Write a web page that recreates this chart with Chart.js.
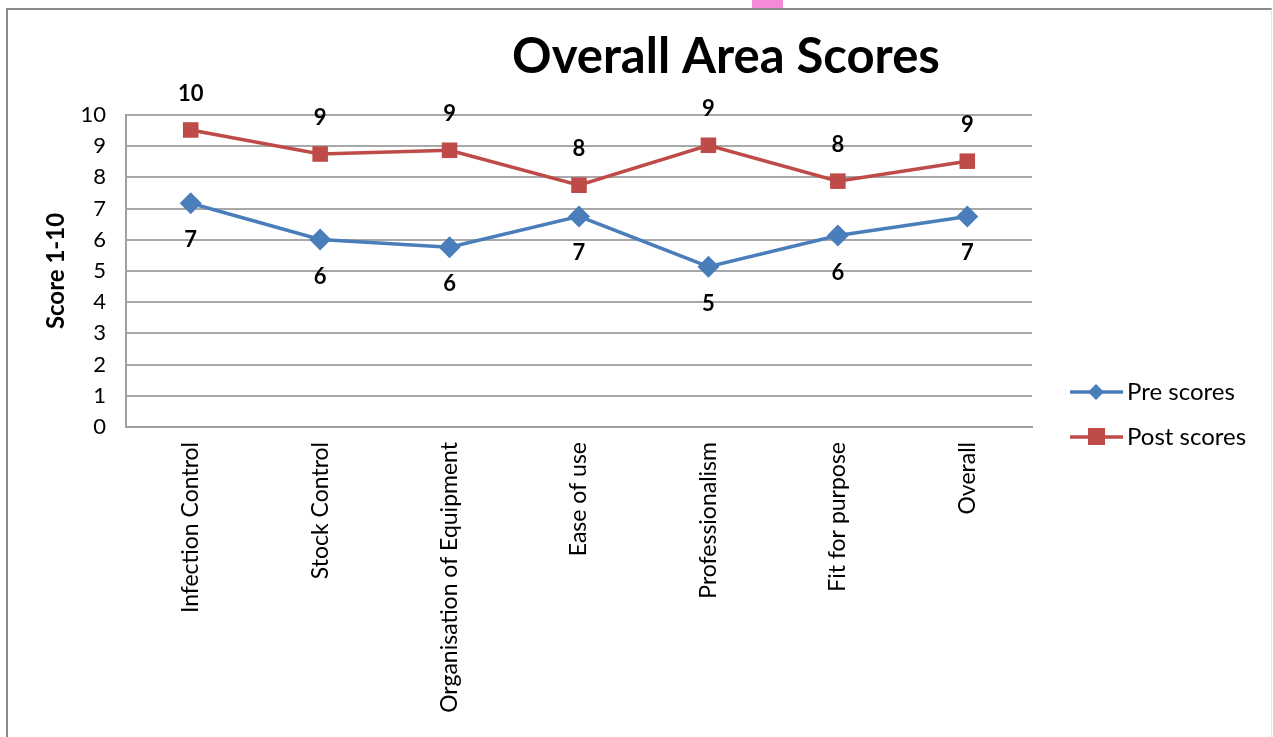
<!DOCTYPE html>
<html>
<head>
<meta charset="utf-8">
<script src="https://cdn.jsdelivr.net/npm/chart.js@4.4.1/dist/chart.umd.min.js"></script>
<style>
  html, body { margin: 0; padding: 0; background: #fff; }
  #wrap { position: relative; width: 1273px; height: 737px; }
  #frame { position: absolute; left: 6px; top: 8px; right: 1px; bottom: -4px; border-left: 2px solid #8a8a8a; border-top: 2px solid #8a8a8a; border-right: 1px solid #e6e6e6; }
  #pink { position: absolute; left: 752px; top: 0; width: 31px; height: 8px; background: #f48ad9; }
</style>
</head>
<body>
<div id="wrap">
  <div id="frame"></div>
  <div id="pink"></div>
  <canvas id="lineChart" width="1273" height="737" style="position:absolute;left:0;top:0;"></canvas>
</div>
<script>
// datos
const categorias = ['Infection Control', 'Stock Control', 'Organisation of Equipment', 'Ease of use', 'Professionalism', 'Fit for purpose', 'Overall'];
const preScores = [7.17, 6.01, 5.76, 6.75, 5.14, 6.14, 6.75];
const postScores = [9.52, 8.75, 8.87, 7.75, 9.03, 7.88, 8.52];
const ticksY = [0, 1, 2, 3, 4, 5, 6, 7, 8, 9, 10];

const fuente = "'Lato', 'Open Sans', sans-serif";
const azul = '#4a7ebb';
const rojo = '#be4b48';

// etiquetas de valor, titulo y leyenda
const extras = {
    id: 'extras',
    afterDatasetsDraw(chart) {
        const ctx = chart.ctx;
        ctx.save();
        ctx.fillStyle = '#000';
        ctx.textAlign = 'center';
        ctx.textBaseline = 'middle';
        ctx.font = 'bold 22px ' + fuente;
        chart.data.datasets.forEach((ds, i) => {
            const meta = chart.getDatasetMeta(i);
            const dir = ds.etiqueta === 'arriba' ? -36 : 37;
            meta.data.forEach((pt, j) => {
                ctx.fillText(Math.round(ds.data[j]), pt.x, pt.y + dir);
            });
        });

        // titulo
        ctx.font = 'bold 49px ' + fuente;
        ctx.fillText('Overall Area Scores', 726, 57);

        // leyenda
        ctx.font = '24px ' + fuente;
        ctx.textAlign = 'left';
        chart.data.datasets.forEach((ds, i) => {
            const y = 392 + i * 45;
            ctx.strokeStyle = ds.borderColor;
            ctx.lineWidth = 3.5;
            ctx.beginPath();
            ctx.moveTo(1070, y);
            ctx.lineTo(1123, y);
            ctx.stroke();
            ctx.fillStyle = ds.backgroundColor;
            if (ds.pointStyle === 'rectRot') {
                ctx.beginPath();
                ctx.moveTo(1096, y - 8);
                ctx.lineTo(1104, y);
                ctx.lineTo(1096, y + 8);
                ctx.lineTo(1088, y);
                ctx.closePath();
                ctx.fill();
            } else {
                ctx.fillRect(1088, y - 9, 17, 17);
            }
            ctx.fillStyle = '#000';
            ctx.fillText(ds.label, 1127, y);
        });
        ctx.restore();
    }
};

const ctx = document.getElementById('lineChart').getContext('2d');
const lineChart = new Chart(ctx, {
    type: 'line',
    data: {
        labels: categorias,
        datasets: [
            {
                label: 'Pre scores', data: preScores, etiqueta: 'abajo',
                borderColor: azul, backgroundColor: azul, borderWidth: 3.5,
                pointStyle: 'rectRot', pointRadius: 11, pointHoverRadius: 11, pointBorderWidth: 0,
                tension: 0
            },
            {
                label: 'Post scores', data: postScores, etiqueta: 'arriba',
                borderColor: rojo, backgroundColor: rojo, borderWidth: 3.5,
                pointStyle: 'rect', pointRadius: 11, pointHoverRadius: 11, pointBorderWidth: 0,
                tension: 0
            }
        ]
    },
    options: {
        responsive: false,
        animation: false,
        layout: { padding: { top: 115, right: 241, left: 38, bottom: 0 } },
        plugins: {
            legend: { display: false },
            tooltip: { enabled: false }
        },
        scales: {
            x: {
                offset: true,
                grid: { display: false, drawTicks: false },
                border: { color: '#a0a0a0', width: 2 },
                ticks: {
                    color: '#000', font: { family: fuente, size: 23 },
                    minRotation: 90, maxRotation: 90, autoSkip: false, padding: 15
                },
                afterFit(scale) { scale.height = 737 - 427; }
            },
            y: {
                min: 0, max: 10,
                afterBuildTicks(scale) { scale.ticks = ticksY.map(v => ({ value: v })); },
                grid: { color: '#a8a8a8', lineWidth: 2, drawTicks: false },
                border: { color: '#a0a0a0', width: 2 },
                ticks: { color: '#000', font: { family: fuente, size: 22 }, padding: 20 },
                title: {
                    display: true, text: 'Score 1-10', color: '#000',
                    font: { family: fuente, size: 24, weight: 'bold' }, padding: { bottom: 10 }
                },
                afterFit(scale) { scale.width = 126 - 38; }
            }
        }
    },
    plugins: [extras]
});
</script>
</body>
</html>
